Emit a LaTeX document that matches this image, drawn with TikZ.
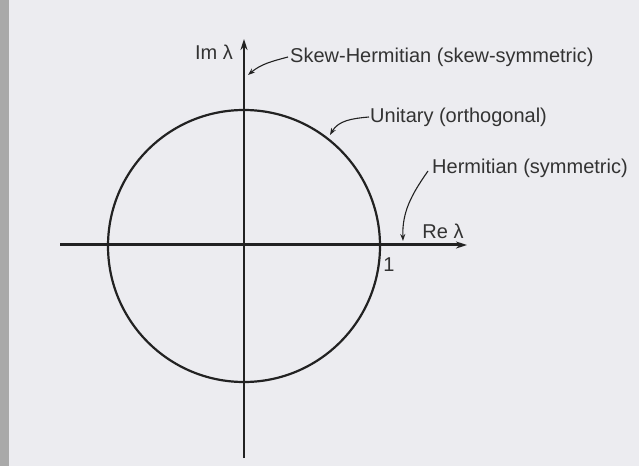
\documentclass[tikz,border=0pt]{standalone}
\usepackage{fontspec}
\setmainfont{Liberation Sans}
\usetikzlibrary{arrows.meta}
\definecolor{bg}{HTML}{ECECF0}
\definecolor{strip}{HTML}{A9A9A9}
\definecolor{ink}{HTML}{222222}
\definecolor{txt}{HTML}{333333}
\begin{document}
\begin{tikzpicture}[x=1pt,y=1pt,
  lbl/.style={inner sep=0pt,text=txt,font=\fontsize{20}{23}\selectfont},
  axis/.style={draw=ink,-{Stealth[length=11pt,width=7pt]}},
  pointer/.style={draw=ink,line width=1.1pt,-{Stealth[length=7pt,width=5pt]}}]
\useasboundingbox (0,0) rectangle (639,466);
\fill[bg] (0,0) rectangle (639,466);
\fill[strip] (0,0) rectangle (9,466);
% circle
\node[draw=ink,line width=2.2pt,circle,minimum size=272pt,inner sep=0pt] (c) at (244,220) {};
% axes
\coordinate (xl) at (60,221);
\coordinate (xr) at (467,221);
\coordinate (yb) at (244,8);
\coordinate (yt) at (244,427);
\draw[axis,line width=3pt] (xl) -- (xr);
\draw[axis,line width=1.8pt] (yb) -- (yt);
% labels
\node[lbl,anchor=east] (im) at (233,414) {Im λ};
\node[lbl,anchor=center] (re) at (443,235) {Re λ};
\node[lbl,anchor=center] (one) at (389,201) {1};
\node[lbl,anchor=west] (sk) at (290,409) {Skew-Hermitian (skew-symmetric)};
\node[lbl,anchor=west] (un) at (370,349) {Unitary (orthogonal)};
\node[lbl,anchor=west] (he) at (432,298) {Hermitian (symmetric)};
% pointers
\coordinate (skt) at (248,391);
\coordinate (unt) at (330,331);
\coordinate (het) at (403,225);
\draw[pointer] ([xshift=-2pt]sk.west) to[out=195,in=40] (skt);
\draw[pointer] ([xshift=-1pt]un.west) to[out=185,in=60] (unt);
\draw[pointer] ([xshift=-4pt,yshift=-3pt]he.west) to[out=235,in=92] (het);
\end{tikzpicture}
\end{document}
